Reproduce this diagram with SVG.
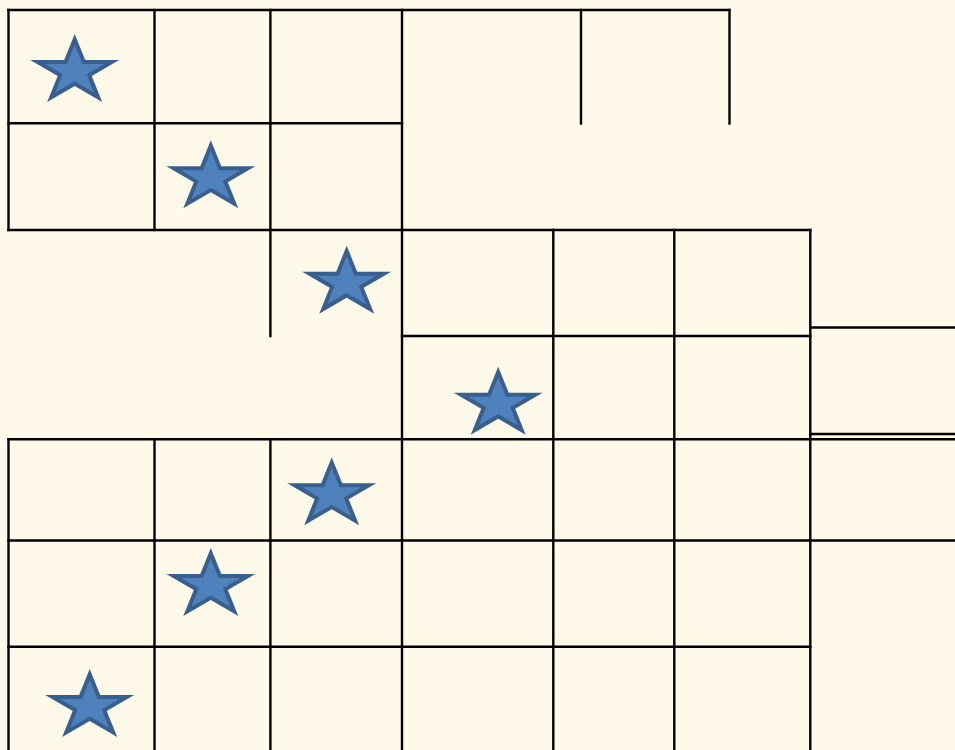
<svg xmlns="http://www.w3.org/2000/svg" xmlns:xlink="http://www.w3.org/1999/xlink" width="955" height="750" viewBox="0 0 955 750">
  <style>
    .grid line { stroke: #000000; stroke-width: 2.4; stroke-linecap: square; fill: none; }
    .star-outer { fill: #395F8F; }
    .star-inner { fill: #4F81BD; }
  </style>
  <defs>
    <g id="star">
      <polygon class="star-outer" points="0,-37.6 10.51,-11.62 44.51,-11.62 17,4.44 27.51,30.42 0,14.36 -27.51,30.42 -17,4.44 -44.51,-11.62 -10.51,-11.62"/>
      <polygon class="star-inner" points="0,-26.93 7.81,-7.62 29.71,-7.62 12,2.73 19.41,21.05 0,9.73 -19.41,21.05 -12,2.73 -29.71,-7.62 -7.81,-7.62"/>
    </g>
  </defs>
  <rect x="0" y="0" width="955" height="750" fill="#FEF9E8"/>
  <g id="grid" class="grid">
    <line x1="8.5" y1="10" x2="729.5" y2="10"/>
    <line x1="8.5" y1="123.3" x2="402" y2="123.3"/>
    <line x1="8.5" y1="230" x2="810.3" y2="230"/>
    <line x1="402" y1="336" x2="810.3" y2="336"/>
    <line x1="810.3" y1="327.5" x2="960" y2="327.5"/>
    <line x1="810.3" y1="434" x2="960" y2="434"/>
    <line x1="8.5" y1="439.3" x2="960" y2="439.3"/>
    <line x1="8.5" y1="540.5" x2="960" y2="540.5"/>
    <line x1="8.5" y1="646.8" x2="810.3" y2="646.8"/>
    <line x1="8.5" y1="10" x2="8.5" y2="230"/>
    <line x1="8.5" y1="439.3" x2="8.5" y2="755"/>
    <line x1="154.5" y1="10" x2="154.5" y2="230"/>
    <line x1="154.5" y1="439.3" x2="154.5" y2="755"/>
    <line x1="270.4" y1="10" x2="270.4" y2="336"/>
    <line x1="270.4" y1="439.3" x2="270.4" y2="755"/>
    <line x1="402" y1="10" x2="402" y2="755"/>
    <line x1="581" y1="10" x2="581" y2="123.5"/>
    <line x1="729.5" y1="10" x2="729.5" y2="123.5"/>
    <line x1="553.3" y1="230" x2="553.3" y2="755"/>
    <line x1="674.3" y1="230" x2="674.3" y2="755"/>
    <line x1="810.3" y1="230" x2="810.3" y2="755"/>
  </g>
  <g id="stars">
    <g id="star1"><use xlink:href="#star" transform="translate(74.7,71.6)"/></g>
    <g id="star2"><use xlink:href="#star" transform="translate(210.8,177.9)"/></g>
    <g id="star3"><use xlink:href="#star" transform="translate(346.7,283.3)"/></g>
    <g id="star4"><use xlink:href="#star" transform="translate(498.2,404.3)"/></g>
    <g id="star5"><use xlink:href="#star" transform="translate(331.7,494.9)"/></g>
    <g id="star6"><use xlink:href="#star" transform="translate(210.8,585.6)"/></g>
    <g id="star7"><use xlink:href="#star" transform="translate(89.7,706.6)"/></g>
  </g>
</svg>
